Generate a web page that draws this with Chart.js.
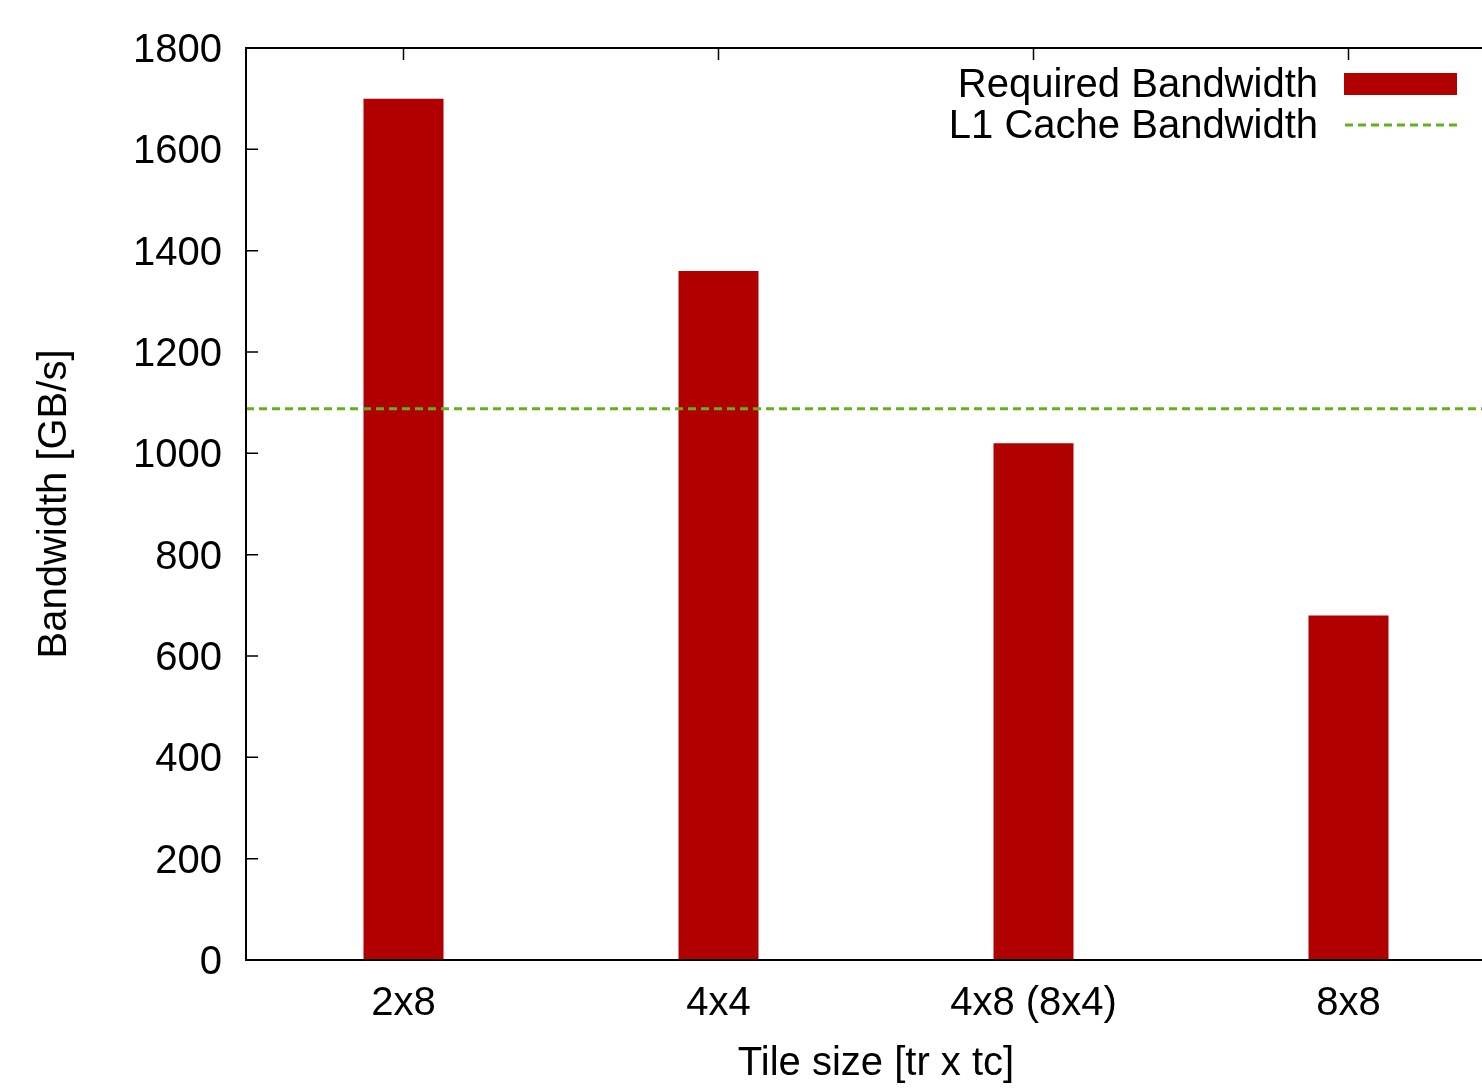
<!DOCTYPE html>
<html>
<head>
<meta charset="utf-8">
<title>Bandwidth</title>
<script src="https://cdn.jsdelivr.net/npm/chart.js@4/dist/chart.umd.min.js"></script>
<style>
  html, body { margin: 0; padding: 0; background: #fff; overflow: hidden; }
  canvas { display: block; }
</style>
</head>
<body>
<canvas id="bwChart" width="1510" height="1088"></canvas>
<script>
// Données du graphique
const tileSizes = ['2x8', '4x4', '4x8 (8x4)', '8x8'];
const requiredBandwidth = [1700, 1360, 1020, 680];
const l1CacheBandwidth = 1088;
const yTicks = [0, 200, 400, 600, 800, 1000, 1200, 1400, 1600, 1800];

const FONT = "'Liberation Sans', Arial, sans-serif";
const RED = '#b00000';
const GREEN = '#62b21a';

// Graduations intérieures (sous les barres) + cadre (style gnuplot)
const framePlugin = {
  id: 'frame',
  beforeDatasetsDraw(chart) {
    const { ctx, chartArea: a, scales } = chart;
    ctx.save();
    ctx.strokeStyle = '#000';
    ctx.lineWidth = 1.5;
    ctx.beginPath();
    yTicks.forEach(v => {
      const y = scales.y.getPixelForValue(v);
      ctx.moveTo(a.left, y); ctx.lineTo(a.left + 12, y);
      ctx.moveTo(a.right, y); ctx.lineTo(a.right - 12, y);
    });
    tileSizes.forEach((c, i) => {
      const x = scales.x.getPixelForValue(i);
      ctx.moveTo(x, a.top); ctx.lineTo(x, a.top + 12);
      ctx.moveTo(x, a.bottom); ctx.lineTo(x, a.bottom - 12);
    });
    ctx.stroke();
    ctx.restore();
  },
  afterDatasetsDraw(chart) {
    const { ctx, chartArea: a } = chart;
    ctx.save();
    ctx.strokeStyle = '#000';
    ctx.lineWidth = 2;
    ctx.strokeRect(a.left, a.top, a.right - a.left, a.bottom - a.top);
    ctx.restore();
  }
};

// Légende à droite (texte aligné à droite, échantillon après)
const keyPlugin = {
  id: 'key',
  afterDraw(chart) {
    const { ctx } = chart;
    const ds = chart.data.datasets;
    ctx.save();
    ctx.font = '40px ' + FONT;
    ctx.fillStyle = '#000';
    ctx.textAlign = 'right';
    ctx.textBaseline = 'middle';
    ctx.fillText(ds[1].label, 1318, 86);
    ctx.fillText(ds[0].label, 1318, 127);
    ctx.fillStyle = ds[1].backgroundColor;
    ctx.fillRect(1344, 73, 113, 22);
    ctx.strokeStyle = ds[0].borderColor;
    ctx.lineWidth = ds[0].borderWidth;
    ctx.setLineDash(ds[0].borderDash);
    ctx.beginPath();
    ctx.moveTo(1345, 125); ctx.lineTo(1457, 125);
    ctx.stroke();
    ctx.restore();
  }
};

new Chart(document.getElementById('bwChart'), {
  type: 'bar',
  data: {
    labels: tileSizes,
    datasets: [{
      type: 'line',
      label: 'L1 Cache Bandwidth',
      xAxisID: 'xLine',
      data: [{ x: 0, y: l1CacheBandwidth }, { x: 1, y: l1CacheBandwidth }],
      borderColor: GREEN,
      borderWidth: 3,
      borderDash: [8, 5],
      pointRadius: 0,
      order: 0
    }, {
      label: 'Required Bandwidth',
      data: requiredBandwidth,
      backgroundColor: RED,
      grouped: false,
      categoryPercentage: 1,
      barPercentage: 0.254,
      order: 1
    }]
  },
  options: {
    responsive: false,
    animation: false,
    layout: { padding: { top: 48, right: 4, left: 0, bottom: 0 } },
    plugins: { legend: { display: false }, tooltip: { enabled: false } },
    scales: {
      x: {
        grid: { display: false, drawTicks: false },
        border: { display: false },
        ticks: { color: '#000', padding: 20, font: { family: FONT, size: 40 } },
        title: {
          display: true, text: 'Tile size [tr x tc]', color: '#000',
          font: { family: FONT, size: 40 }, padding: { top: 0, bottom: 0 }
        },
        afterFit(scale) { scale.height = 128; }
      },
      xLine: { type: 'linear', display: false, offset: false, min: 0, max: 1 },
      y: {
        min: 0, max: 1800,
        grid: { display: false, drawTicks: false },
        border: { display: false },
        ticks: {
          stepSize: 200, color: '#000', padding: 24, labelOffset: 3,
          font: { family: FONT, size: 40 },
          callback: v => String(v)
        },
        title: {
          display: true, text: 'Bandwidth [GB/s]', color: '#000',
          font: { family: FONT, size: 40 }, padding: { top: 31, bottom: 0 }
        },
        afterFit(scale) { scale.width = 246; }
      }
    }
  },
  plugins: [framePlugin, keyPlugin]
});
</script>
</body>
</html>
